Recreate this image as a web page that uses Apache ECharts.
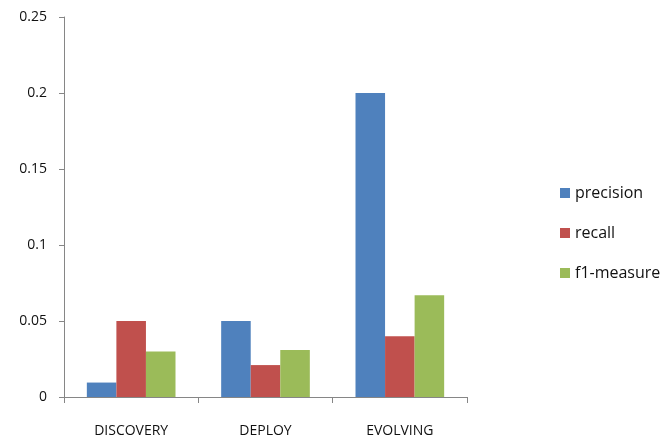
<!DOCTYPE html>
<html>
<head>
<meta charset="utf-8">
<script src="https://cdn.jsdelivr.net/npm/echarts@6/dist/echarts.min.js"></script>
<style>
  html, body { margin: 0; padding: 0; background: #fff; }
  #chart { width: 660px; height: 442px; }
</style>
</head>
<body>
<div id="chart"></div>
<script>
  // data
  const categories = ['DISCOVERY', 'DEPLOY', 'EVOLVING']
  const precision = [0.0095, 0.05, 0.2]
  const recall = [0.05, 0.021, 0.04]
  const f1Measure = [0.03, 0.031, 0.067]

  const font = 'Open Sans'
  const chart = echarts.init(document.getElementById('chart'))

  function bar(name, data, color) {
    return {
      name: name,
      type: 'bar',
      data: data,
      barGap: '0%',
      barCategoryGap: '34%',
      itemStyle: { color: color },
      animation: false
    }
  }

  chart.setOption({
    backgroundColor: '#fff',
    grid: { left: 64, right: 193, top: 17, bottom: 45 },
    legend: {
      orient: 'vertical',
      left: 555,
      top: 180,
      itemWidth: 10,
      itemHeight: 10,
      itemGap: 24,
      icon: 'rect',
      textStyle: { fontFamily: font, fontSize: 16, color: '#111' },
      data: ['precision', 'recall', 'f1-measure']
    },
    xAxis: {
      type: 'category',
      data: categories,
      axisLine: { lineStyle: { color: '#868686' } },
      axisTick: { show: true, length: 6, lineStyle: { color: '#868686' } },
      axisLabel: { margin: 27, fontFamily: font, fontSize: 14, color: '#111' }
    },
    yAxis: {
      type: 'value',
      min: 0,
      max: 0.25,
      interval: 0.05,
      axisLine: { show: true, lineStyle: { color: '#868686' } },
      axisTick: { show: true, length: 5, lineStyle: { color: '#868686' } },
      splitLine: { show: false },
      axisLabel: { margin: 17, fontFamily: font, fontSize: 14, color: '#111' }
    },
    series: [
      bar('precision', precision, '#4F81BD'),
      bar('recall', recall, '#C0504D'),
      bar('f1-measure', f1Measure, '#9BBB59')
    ]
  })
</script>
</body>
</html>
